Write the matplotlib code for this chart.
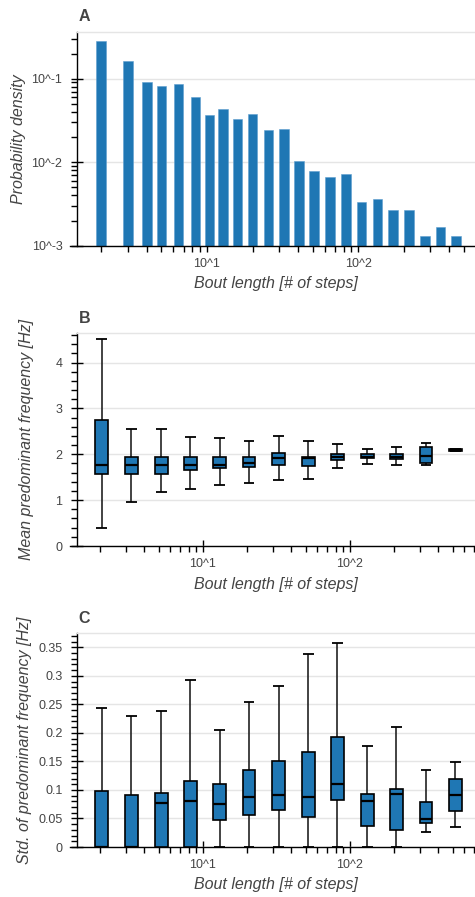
import numpy as np
import matplotlib
matplotlib.use("Agg")
import matplotlib.pyplot as plt
from matplotlib.ticker import LogLocator, FixedLocator, MultipleLocator, AutoMinorLocator, FuncFormatter, NullFormatter

plt.rcParams['font.family'] = ['Liberation Sans', 'DejaVu Sans']

# ---------------- data ----------------
bout_len_hist = [2, 3, 4, 5, 6.5, 8.4, 10.4, 12.8, 15.9, 20, 25.5, 32.4, 40.7, 51,
                 65, 83, 105, 134, 170, 217, 275, 350, 441]
prob_density = [0.28, 0.163, 0.0913, 0.0825, 0.087, 0.0604, 0.0365, 0.0438, 0.0329,
                0.0378, 0.0245, 0.0252, 0.01025, 0.0079, 0.00665, 0.00728, 0.00331,
                0.00363, 0.00265, 0.00265, 0.00132, 0.00166, 0.00132]

bout_len_box = [2.05, 3.26, 5.2, 8.2, 13.0, 20.6, 32.7, 52, 82, 131, 207, 329, 522]

mean_lo = [0.39, 0.97, 1.18, 1.25, 1.34, 1.38, 1.43, 1.46, 1.70, 1.79, 1.76, 1.76, 2.08]
mean_q1 = [1.57, 1.57, 1.57, 1.65, 1.69, 1.73, 1.77, 1.74, 1.88, 1.92, 1.90, 1.82, 2.08]
mean_med = [1.765, 1.765, 1.765, 1.77, 1.77, 1.82, 1.92, 1.91, 1.95, 1.95, 1.95, 1.97, 2.10]
mean_q3 = [2.74, 1.95, 1.95, 1.93, 1.95, 1.95, 2.02, 1.95, 2.01, 2.00, 2.00, 2.16, 2.12]
mean_hi = [4.51, 2.54, 2.54, 2.37, 2.35, 2.29, 2.40, 2.29, 2.23, 2.12, 2.16, 2.25, 2.12]

std_lo = [0, 0, 0, 0, 0, 0, 0, 0, 0, 0, 0, 0.0257, 0.0356]
std_q1 = [0, 0, 0, 0, 0.0479, 0.0567, 0.0643, 0.0532, 0.0818, 0.0374, 0.0292, 0.0427, 0.0637]
std_med = [0, 0, 0.0777, 0.0806, 0.0748, 0.0882, 0.0906, 0.0871, 0.1104, 0.0806, 0.0929, 0.0491, 0.0917]
std_q3 = [0.0976, 0.0917, 0.0952, 0.1163, 0.111, 0.1356, 0.1513, 0.1671, 0.1922, 0.0929, 0.1011, 0.0795, 0.1198]
std_hi = [0.2437, 0.229, 0.2384, 0.292, 0.2045, 0.2548, 0.2822, 0.3389, 0.3576, 0.1765, 0.2109, 0.135, 0.1484]

x_label = "Bout length [# of steps]"
panel_titles = ["A", "B", "C"]
y_labels = ["Probability density", "Mean predominant frequency [Hz]",
            "Std. of predominant frequency [Hz]"]

# ---------------- style ----------------
BLUE = "#1f77b4"
TXT = "#444444"
GRID = "#e5e5e5"
W, H = 475, 897
AX_L, AX_R = 77, 476

fig = plt.figure(figsize=(W / 100, H / 100), dpi=100)


def add_axes(top, bottom):
    return fig.add_axes([AX_L / W, 1 - bottom / H, (AX_R - AX_L) / W, (bottom - top) / H])


def pow_fmt(v, pos):
    e = int(round(np.log10(v)))
    return "10^%d" % e


def style(ax, title, ylabel, top, bottom, ylab_right_px, xlab_top_px):
    ax.set_xscale('log')
    ax.spines['right'].set_visible(False)
    ax.spines['top'].set_color(GRID)
    ax.spines['top'].set_linewidth(1.0)
    ax.spines['left'].set_linewidth(1.0)
    ax.spines['bottom'].set_linewidth(1.0)
    ax.grid(axis='y', color=GRID, linewidth=1.0)
    ax.grid(axis='x', visible=False)
    ax.set_axisbelow(True)
    ax.xaxis.set_major_locator(FixedLocator([10, 100]))
    ax.xaxis.set_major_formatter(FuncFormatter(pow_fmt))
    ax.xaxis.set_minor_locator(LogLocator(base=10, subs=np.arange(2, 10), numticks=20))
    ax.xaxis.set_minor_formatter(NullFormatter())
    ax.tick_params(which='major', direction='inout', length=8, width=1.0, colors='black',
                   labelcolor=TXT, labelsize=9)
    ax.tick_params(which='minor', direction='out', length=4.5, width=1.0, colors='black')
    ax.tick_params(axis='x', which='major', pad=4.5)
    ax.tick_params(axis='y', which='major', pad=6.5)
    ax.set_xlabel(x_label, fontsize=11.5, style='italic', color=TXT)
    ax.set_ylabel(ylabel, fontsize=11.5, style='italic', color=TXT)
    hpx = bottom - top
    wpx = AX_R - AX_L
    ax.yaxis.set_label_coords((ylab_right_px - AX_L) / wpx, 0.5)
    ax.xaxis.set_label_coords((276 - AX_L) / wpx, -(xlab_top_px - bottom) / hpx)
    ax.text(1.5 / wpx, 1 + 10.2 / hpx, title, transform=ax.transAxes, fontsize=11.5,
            fontweight='bold', color=TXT, ha='left', va='baseline')


# ---------------- Panel A ----------------
axA = add_axes(31.7, 245.7)
style(axA, panel_titles[0], y_labels[0], 31.7, 245.7, 25.5, 276)
axA.set_yscale('log')
bw = 0.0315
xh = np.array(bout_len_hist)
axA.bar(xh * 10 ** (-bw), prob_density, width=xh * 10 ** bw - xh * 10 ** (-bw),
        align='edge', color=BLUE, edgecolor='#5f9fcf', linewidth=0.4)
axA.set_xlim(1.384, 600)
axA.set_ylim(1e-3, 0.365)
axA.yaxis.set_major_locator(FixedLocator([1e-3, 1e-2, 1e-1]))
axA.yaxis.set_major_formatter(FuncFormatter(pow_fmt))
axA.yaxis.set_minor_locator(LogLocator(base=10, subs=np.arange(2, 10), numticks=20))
axA.yaxis.set_minor_formatter(NullFormatter())


def draw_boxes(ax, xs, lo, q1, med, q3, hi):
    xs = np.array(xs)
    hw = 0.0433
    cw = 0.0365
    left = xs * 10 ** (-hw)
    right = xs * 10 ** hw
    cl = xs * 10 ** (-cw)
    cr = xs * 10 ** cw
    ax.vlines(xs, lo, q1, color='#222222', linewidth=1.2, zorder=2)
    ax.vlines(xs, q3, hi, color='#222222', linewidth=1.2, zorder=2)
    ax.hlines(lo, cl, cr, color='black', linewidth=1.3, zorder=2)
    ax.hlines(hi, cl, cr, color='black', linewidth=1.3, zorder=2)
    ax.bar(left, np.array(q3) - np.array(q1), bottom=q1, width=right - left, align='edge',
           color=BLUE, edgecolor='black', linewidth=1.2, zorder=3)
    ax.hlines(med, left, right, color='black', linewidth=1.6, zorder=4)


# ---------------- Panel B ----------------
axB = add_axes(332.7, 546)
style(axB, panel_titles[1], y_labels[1], 332.7, 546, 33.5, 577)
draw_boxes(axB, bout_len_box, mean_lo, mean_q1, mean_med, mean_q3, mean_hi)
axB.set_xlim(1.39, 720)
axB.set_ylim(0, 4.65)
axB.yaxis.set_major_locator(MultipleLocator(1))
axB.yaxis.set_minor_locator(AutoMinorLocator(5))
axB.yaxis.set_major_formatter(FuncFormatter(lambda v, p: "%g" % round(v, 4)))

# ---------------- Panel C ----------------
axC = add_axes(633.3, 847)
style(axC, panel_titles[2], y_labels[2], 633.3, 847, 32, 877)
draw_boxes(axC, bout_len_box, std_lo, std_q1, std_med, std_q3, std_hi)
axC.set_xlim(1.39, 720)
axC.set_ylim(0, 0.3745)
axC.yaxis.set_major_locator(MultipleLocator(0.05))
axC.yaxis.set_minor_locator(AutoMinorLocator(5))
axC.yaxis.set_major_formatter(FuncFormatter(lambda v, p: "%g" % round(v, 4)))

# extend x-axis line slightly left of the y axis (as in the reference)
for ax in (axA, axB, axC):
    lo_, hi_ = ax.get_xlim()
    ax.spines['bottom'].set_bounds(lo_ / 10 ** (7 / 150), hi_)

fig.savefig("out.png", dpi=100)
